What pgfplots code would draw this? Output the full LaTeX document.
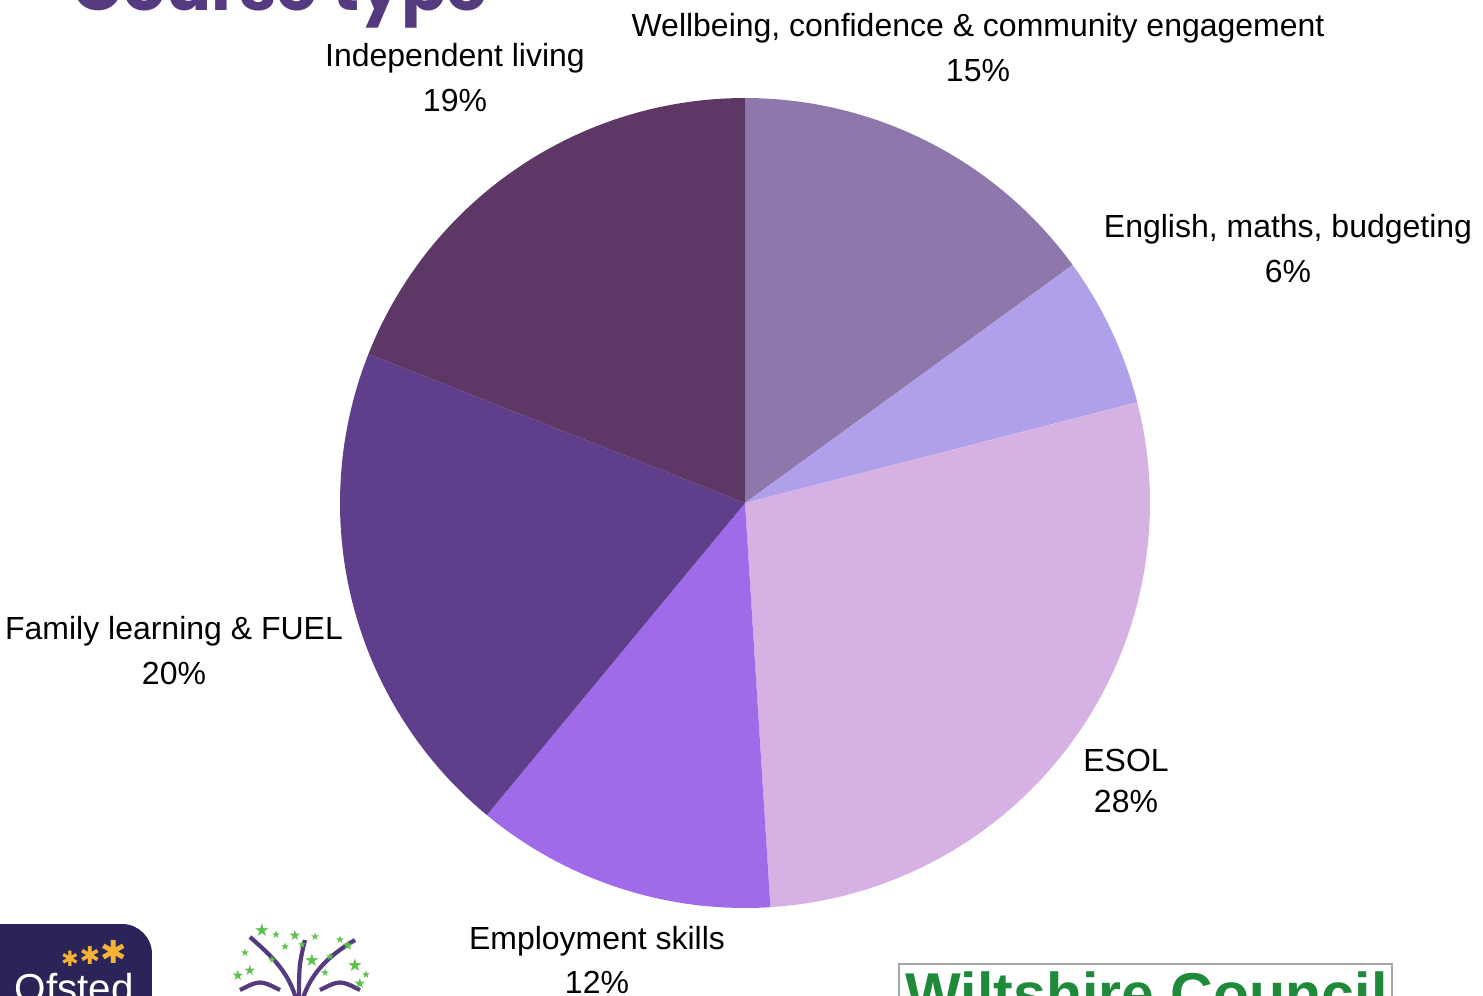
\documentclass[border=0pt]{standalone}
\usepackage{pgfplots}
\pgfplotsset{compat=1.18}
\usepackage{fontspec}
\setmainfont{Liberation Sans}
\newfontfamily\titlefont{Poppins}
\newfontfamily\dejavu{DejaVu Sans}
\definecolor{cWell}{HTML}{8E78AB}
\definecolor{cEng}{HTML}{B0A0E9}
\definecolor{cEsol}{HTML}{D6B1E3}
\definecolor{cEmp}{HTML}{A06BE8}
\definecolor{cFam}{HTML}{5F3F8B}
\definecolor{cInd}{HTML}{5D3765}
\definecolor{cTitle}{HTML}{553A7F}
\definecolor{cNavy}{HTML}{2A2459}
\definecolor{cGreen}{HTML}{1F8A3A}
\definecolor{cStar}{HTML}{5CC04A}
\definecolor{cYel}{HTML}{F4B335}
% shares in percent, clockwise from 12 o'clock
\def\pWell{15}
\def\pEng{6}
\def\pEsol{28}
\def\pEmp{12}
\def\pFam{20}
\def\pInd{19}
\begin{document}
\begin{tikzpicture}[x=1cm,y=1cm]
\begin{axis}[
  width=8.1cm, height=8.1cm, scale only axis,
  hide axis, xmin=-1, xmax=1, ymin=-1, ymax=1,
  clip=false]
\pgfmathsetmacro\aA{90}
\pgfmathsetmacro\aB{\aA-3.6*\pWell}
\pgfmathsetmacro\aC{\aB-3.6*\pEng}
\pgfmathsetmacro\aD{\aC-3.6*\pEsol}
\pgfmathsetmacro\aE{\aD-3.6*\pEmp}
\pgfmathsetmacro\aF{\aE-3.6*\pFam}
\pgfmathsetmacro\aG{\aF-3.6*\pInd}
\addplot[draw=none, fill=cWell, domain=\aB:\aA, samples=60, variable=\t] ({cos(\t)},{sin(\t)}) -- (axis cs:0,0) -- cycle;
\addplot[draw=none, fill=cEng, domain=\aC:\aB, samples=40, variable=\t] ({cos(\t)},{sin(\t)}) -- (axis cs:0,0) -- cycle;
\addplot[draw=none, fill=cEsol, domain=\aD:\aC, samples=100, variable=\t] ({cos(\t)},{sin(\t)}) -- (axis cs:0,0) -- cycle;
\addplot[draw=none, fill=cEmp, domain=\aE:\aD, samples=50, variable=\t] ({cos(\t)},{sin(\t)}) -- (axis cs:0,0) -- cycle;
\addplot[draw=none, fill=cFam, domain=\aF:\aE, samples=80, variable=\t] ({cos(\t)},{sin(\t)}) -- (axis cs:0,0) -- cycle;
\addplot[draw=none, fill=cInd, domain=\aG:\aF, samples=80, variable=\t] ({cos(\t)},{sin(\t)}) -- (axis cs:0,0) -- cycle;
\end{axis}
\useasboundingbox (-3.4,-0.87) rectangle ++(14.83,9.95);
\begin{scope}[shift={(-3.4,-0.87)}]
% title (cut off at top)
\node[anchor=base west, inner sep=0pt, text=cTitle, font=\titlefont\bfseries\fontsize{19}{22}\selectfont] at (0.72,9.84) {Course type};
% labels
\tikzset{lab/.style={align=center, inner sep=0pt, font=\fontsize{9.1}{12.8}\selectfont}}
\node[lab] at (4.55,9.17) {Independent living\\19\%};
\node[lab] at (9.78,9.47) {Wellbeing, confidence \& community engagement\\15\%};
\node[lab] at (12.88,7.46) {English, maths, budgeting\\6\%};
\node[lab, font=\fontsize{9.1}{11.4}\selectfont] at (11.26,2.14) {ESOL\\28\%};
\node[lab] at (5.97,0.35) {Employment skills\\12\%};
\node[lab] at (1.74,3.44) {Family learning \& FUEL\\20\%};
% Ofsted logo
\fill[cNavy, rounded corners=0.3cm] (-0.4,-0.6) rectangle (1.52,0.71);
\node[anchor=base west, inner sep=0pt, text=white, font=\fontsize{11.5}{13}\selectfont] at (0.14,-0.07) {Ofsted};
\node[inner sep=0pt, text=cYel, font=\dejavu\bfseries\fontsize{6}{6}\selectfont] at (0.7,0.36) {✱};
\node[inner sep=0pt, text=cYel, font=\dejavu\bfseries\fontsize{7}{7}\selectfont] at (0.9,0.39) {✱};
\node[inner sep=0pt, text=cYel, font=\dejavu\bfseries\fontsize{9}{9}\selectfont] at (1.14,0.43) {✱};
% tree logo
\begin{scope}[cTitle, line width=1.2pt]
\draw (2.99,-0.2) .. controls (2.95,0.2) and (2.7,0.4) .. (2.5,0.58);
\draw (2.99,-0.2) .. controls (3.05,0.2) and (3.3,0.4) .. (3.55,0.55);
\draw (2.99,-0.1) .. controls (2.99,0.3) .. (3.05,0.55);
\draw (2.4,0.05) .. controls (2.6,0.15) .. (2.8,0.05);
\draw (3.2,0.05) .. controls (3.4,0.15) .. (3.6,0.05);
\end{scope}
\foreach \sx/\sy/\ss in {2.62/0.65/5,2.76/0.6/3,2.95/0.6/4,3.02/0.5/3,3.15/0.58/3,3.48/0.5/4,3.55/0.3/5,3.6/0.12/4,2.38/0.2/4,2.45/0.42/3,2.72/0.35/3,3.12/0.35/5,3.3/0.38/3,3.25/0.22/3,2.5/0.25/4,3.4/0.55/3,2.85/0.48/3,3.66/0.2/3}{
  \node[inner sep=0pt, text=cStar, font=\dejavu\fontsize{\ss}{\ss}\selectfont] at (\sx,\sy) {★};
}
% Wiltshire Council logo
\draw[gray!70, line width=0.8pt] (8.99,-0.5) -- (8.99,0.31) -- (13.92,0.31) -- (13.92,-0.5);
\node[anchor=base west, inner sep=0pt, text=cGreen, font=\bfseries\fontsize{16.8}{18}\selectfont] at (9.05,-0.19) {Wiltshire Council};
\end{scope}
\end{tikzpicture}
\end{document}
